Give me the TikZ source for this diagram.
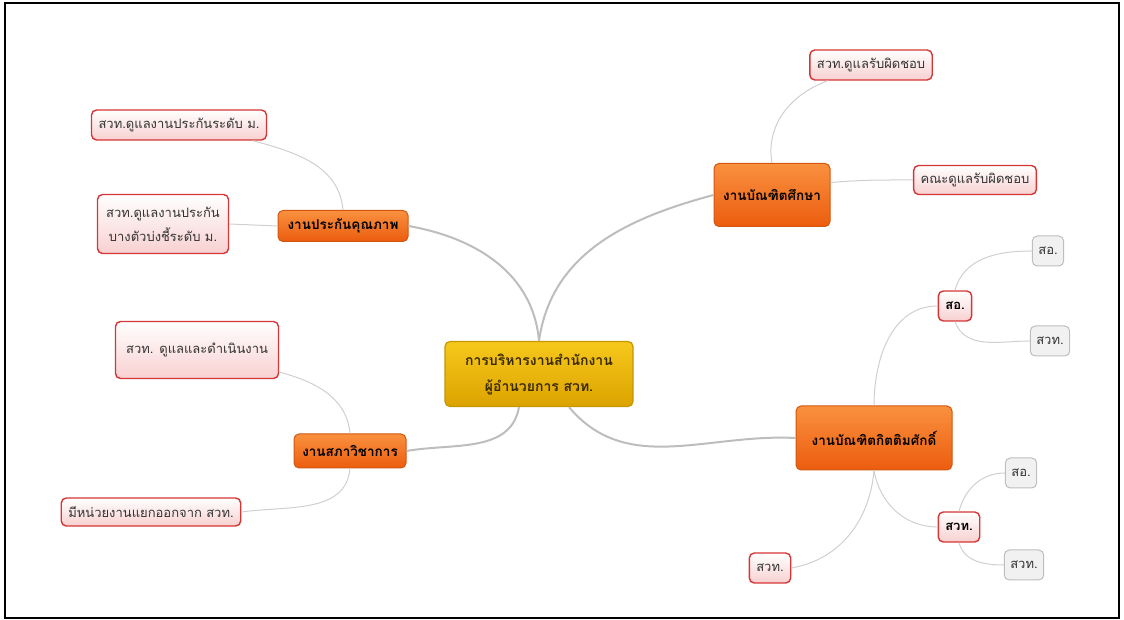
\documentclass[tikz,border=0pt]{standalone}
\usepackage{fontspec}
\setmainfont{Loma}[Script=Thai]
\usepackage{tikz}
\usetikzlibrary{positioning,calc}
\definecolor{roottop}{HTML}{F6C81C}
\definecolor{rootbot}{HTML}{DCA300}
\definecolor{rootline}{HTML}{C49600}
\definecolor{roottext}{HTML}{3A2A00}
\definecolor{maintop}{HTML}{F9913F}
\definecolor{mainbot}{HTML}{EC5C0E}
\definecolor{mainline}{HTML}{D2560F}
\definecolor{leaftop}{HTML}{FFFFFF}
\definecolor{leafbot}{HTML}{F8D0D0}
\definecolor{leafline}{HTML}{D53535}
\definecolor{leaftext}{HTML}{333333}
\definecolor{grayfill}{HTML}{F1F1F1}
\definecolor{grayline}{HTML}{BEBEBE}
\definecolor{branchline}{HTML}{BDBDBD}
\definecolor{twigline}{HTML}{CFCFCF}
\tikzset{
  topic/.style={draw=rootline, line width=1.2pt, top color=roottop, bottom color=rootbot, rounded corners=5pt,
                align=center, font=\fontsize{14}{26}\selectfont\bfseries, text=roottext,
                minimum width=188pt, minimum height=65pt},
  mainbox/.style={draw=mainline, line width=1pt, top color=maintop, bottom color=mainbot, rounded corners=5pt,
                  align=center, font=\fontsize{13.5}{17}\selectfont\bfseries, text=black, minimum height=#1},
  mainbox/.default=31pt,
  leafbox/.style={draw=leafline, line width=1.4pt, top color=leaftop, bottom color=leafbot, rounded corners=5pt,
                  align=center, font=\fontsize{13}{24}\selectfont, text=leaftext, inner sep=7pt, minimum height=#1},
  leafbox/.default=30pt,
  subbox/.style={leafbox, font=\fontsize{13}{16}\selectfont\bfseries, text=black},
  graybox/.style={draw=grayline, line width=1pt, fill=grayfill, rounded corners=5pt,
                  font=\fontsize{13}{16}\selectfont, text=leaftext, inner sep=6pt, minimum height=30pt},
  branch/.style={draw=branchline, line width=2pt},
  twig/.style={draw=twigline, line width=1pt},
}
\begin{document}
\begin{tikzpicture}[x=1pt,y=1pt]
  \useasboundingbox (0,0) rectangle (1124,620);
  \draw[line width=1.2pt] (5,2) rectangle (1119,617);
  % centre
  \node[topic] (root) at (539,246) {การบริหารงานสำนักงาน\\ผู้อำนวยการ สวท.};
  % left side
  \node[mainbox, minimum width=130pt] (qa) at (343,394) {งานประกันคุณภาพ};
  \node[leafbox] (qa1) at (179,495) {สวท.ดูแลงานประกันระดับ ม.};
  \node[leafbox=59pt, minimum width=131pt] (qa2) at (163,396) {สวท.ดูแลงานประกัน\\บางตัวบ่งชี้ระดับ ม.};
  \node[mainbox=34pt, minimum width=112pt] (acad) at (350,169) {งานสภาวิชาการ};
  \node[leafbox=57pt, minimum width=163pt] (acad1) at (197,270) {สวท. ดูแลและดำเนินงาน};
  \node[leafbox=28pt] (acad2) at (151,108) {มีหน่วยงานแยกออกจาก สวท.};
  % right side
  \node[mainbox=63pt, minimum width=116pt] (grad) at (772,425) {งานบัณฑิตศึกษา};
  \node[leafbox] (grad1) at (871,555) {สวท.ดูแลรับผิดชอบ};
  \node[leafbox=29pt] (grad2) at (975,440) {คณะดูแลรับผิดชอบ};
  \node[mainbox=64pt, minimum width=156pt] (hon) at (874,182) {งานบัณฑิตกิตติมศักดิ์};
  \node[subbox] (honA) at (955,314) {สอ.};
  \node[graybox] (honA1) at (1048,369) {สอ.};
  \node[graybox] (honA2) at (1050,279) {สวท.};
  \node[subbox] (honB) at (959,93) {สวท.};
  \node[graybox] (honB1) at (1021,147) {สอ.};
  \node[graybox] (honB2) at (1024,55) {สวท.};
  \node[leafbox] (honC) at (770,52) {สวท.};
  % branches
  \draw[branch] (root.north) to[out=95,in=-10] (qa.east);
  \draw[branch] (root.north) to[out=82,in=195] (grad.west);
  \draw[branch] ($(root.south)+(-20,0)$) to[out=-100,in=10] (acad.east);
  \draw[branch] ($(root.south)+(30,0)$) to[out=-50,in=177] (hon.west);
  % twigs
  \draw[twig] (qa.north) to[out=95,in=-15] (qa1.-12);
  \draw[twig] (qa2.east) -- (qa.west);
  \draw[twig] (acad.north) to[out=95,in=-15] (acad1.-15);
  \draw[twig] (acad.south) to[out=-95,in=8] (acad2.east);
  \draw[twig] (grad.north) to[out=100,in=200] (grad1.200);
  \draw[twig] (grad.12) to[out=5,in=180] (grad2.west);
  \draw[twig] (hon.north) to[out=90,in=180] (honA.west);
  \draw[twig] (hon.south) to[out=-80,in=180] (honB.west);
  \draw[twig] (hon.south) to[out=-95,in=10] (honC.east);
  \draw[twig] (honA.north) to[out=75,in=180] (honA1.west);
  \draw[twig] (honA.south) to[out=-70,in=180] (honA2.west);
  \draw[twig] (honB.north) to[out=75,in=180] (honB1.west);
  \draw[twig] (honB.south) to[out=-75,in=180] (honB2.west);
\end{tikzpicture}
\end{document}
